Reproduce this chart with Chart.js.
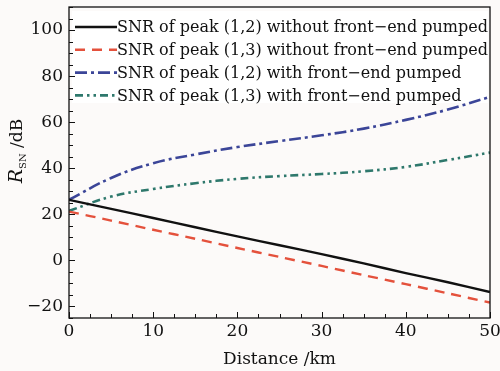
<!DOCTYPE html>
<html>
<head>
<meta charset="utf-8">
<script src="https://cdn.jsdelivr.net/npm/chart.js@4"></script>
<style>
  html, body { margin: 0; padding: 0; background: #fcfaf9; }
  #wrap { width: 500px; height: 371px; }
</style>
</head>
<body>
<div id="wrap"><canvas id="snrChart" width="500" height="371"></canvas></div>
<script>
// distance along the fiber (km)
const distance = [0, 5, 10, 15, 20, 25, 30, 35, 40, 45, 50];

// SNR (dB)
const snr12NoPump = [26.3, 22.4, 18.4, 14.4, 10.4, 6.6, 2.7, -1.3, -5.5, -9.5, -13.7];
const snr13NoPump = [21.2, 17.3, 13.3, 9.4, 5.4, 1.5, -2.4, -6.4, -10.3, -14.3, -18.3];
const snr12Pump = [26.3, 35.8, 42.2, 46.0, 49.2, 51.8, 54.3, 57.2, 61.0, 65.5, 71.0];
const snr13Pump = [21.5, 27.7, 31.0, 33.5, 35.4, 36.6, 37.5, 38.7, 40.6, 43.6, 46.8];

const seriesLabels = [
    'SNR of peak (1,2) without front\u2212end pumped',
    'SNR of peak (1,3) without front\u2212end pumped',
    'SNR of peak (1,2) with front\u2212end pumped',
    'SNR of peak (1,3) with front\u2212end pumped'
];

const xTicks = [0, 10, 20, 30, 40, 50];
const yTicks = [-20, 0, 20, 40, 60, 80, 100];

const serif = "'DejaVu Serif', serif";

function toPoints(ys) {
    return distance.map((d, i) => ({ x: d, y: ys[i] }));
}

// frame, inward ticks, legend and axis titles
const decorPlugin = {
    id: 'decor',
    beforeDraw(chart) {
        const c = chart.ctx;
        c.save();
        c.fillStyle = '#fcfaf9';
        c.fillRect(0, 0, chart.width, chart.height);
        c.restore();
    },
    beforeDatasetsDraw(chart) {
        // legend background sits under the curves
        const c = chart.ctx, a = chart.chartArea;
        c.save();
        c.fillStyle = '#ffffff';
        c.fillRect(a.left + 3, a.top + 4, a.right - a.left - 5, 92);
        c.restore();
    },
    afterDraw(chart) {
        const c = chart.ctx, a = chart.chartArea;
        const xs = chart.scales.x, ys = chart.scales.y;
        c.save();
        c.strokeStyle = '#111';
        c.lineWidth = 1.3;
        c.strokeRect(a.left, a.top, a.right - a.left, a.bottom - a.top);

        // x ticks: major every 10, minor every 2.5
        c.lineWidth = 1;
        for (let v = 0; v <= 50; v += 2.5) {
            const px = Math.round(xs.getPixelForValue(v)) + 0.5;
            const len = (v % 10 === 0) ? 6 : 4;
            c.beginPath();
            c.moveTo(px, a.bottom);
            c.lineTo(px, a.bottom - len);
            c.stroke();
        }
        // y ticks: major every 20, minor every 5
        for (let v = -25; v <= 110; v += 5) {
            const py = Math.round(ys.getPixelForValue(v)) + 0.5;
            const len = (v % 20 === 0) ? 6 : 4;
            c.beginPath();
            c.moveTo(a.left, py);
            c.lineTo(a.left + len, py);
            c.stroke();
        }

        // legend entries
        c.font = '16px ' + serif;
        c.textBaseline = 'middle';
        chart.data.datasets.forEach((ds, i) => {
            const y = a.top + 20 + i * 22.8;
            c.strokeStyle = ds.borderColor;
            c.lineWidth = ds.borderWidth;
            c.setLineDash(ds.borderDash || []);
            c.beginPath();
            c.moveTo(a.left + 6, y);
            c.lineTo(a.left + 48, y);
            c.stroke();
            c.setLineDash([]);
            c.fillStyle = '#111';
            c.fillText(ds.label, a.left + 48, y + 1);
        });

        // axis titles
        c.fillStyle = '#111';
        c.font = '17px ' + serif;
        c.textAlign = 'center';
        c.textBaseline = 'alphabetic';
        c.fillText('Distance /km', (a.left + a.right) / 2, 364);

        c.translate(22, 151);
        c.rotate(-Math.PI / 2);
        c.textAlign = 'left';
        c.font = 'italic 19px ' + serif;
        const rW = c.measureText('R').width;
        c.font = '10px ' + serif;
        const subW = c.measureText('SN').width;
        c.font = '17px ' + serif;
        const restW = c.measureText(' /dB').width;
        let x0 = -(rW + subW + restW) / 2;
        c.font = 'italic 19px ' + serif;
        c.fillText('R', x0, 0);
        x0 += rW;
        c.font = '10px ' + serif;
        c.fillText('SN', x0, 4);
        x0 += subW;
        c.font = '17px ' + serif;
        c.fillText(' /dB', x0, 0);
        c.restore();
    }
};

let ctx = document.getElementById('snrChart').getContext('2d');

let snrChart = new Chart(ctx, {
    type: 'line',
    data: {
        datasets: [
            {
                label: seriesLabels[0],
                data: toPoints(snr12NoPump),
                borderColor: '#111111',
                borderWidth: 2.4,
                pointRadius: 0,
                tension: 0.3,
                fill: false
            },
            {
                label: seriesLabels[1],
                data: toPoints(snr13NoPump),
                borderColor: '#e4513c',
                borderWidth: 2.4,
                borderDash: [10, 7],
                pointRadius: 0,
                tension: 0.3,
                fill: false
            },
            {
                label: seriesLabels[2],
                data: toPoints(snr12Pump),
                borderColor: '#3b4598',
                borderWidth: 2.6,
                borderDash: [12, 4, 3, 4],
                pointRadius: 0,
                tension: 0.4,
                fill: false
            },
            {
                label: seriesLabels[3],
                data: toPoints(snr13Pump),
                borderColor: '#2e786c',
                borderWidth: 2.6,
                borderDash: [8, 4, 2.5, 4, 2.5, 4],
                pointRadius: 0,
                tension: 0.4,
                fill: false
            }
        ]
    },
    options: {
        responsive: false,
        animation: false,
        layout: { padding: { top: 7, right: 10, left: 0, bottom: 0 } },
        plugins: {
            legend: { display: false },
            tooltip: { enabled: false }
        },
        scales: {
            x: {
                type: 'linear',
                min: 0,
                max: 50,
                grid: { display: false, drawTicks: false },
                border: { display: false },
                afterBuildTicks: s => { s.ticks = xTicks.map(v => ({ value: v })); },
                afterFit: s => {
                    s.height = 53;
                    s.paddingLeft = 0;
                    s.paddingRight = 0;
                },
                ticks: {
                    color: '#111',
                    font: { family: serif, size: 17 },
                    padding: 3,
                    maxRotation: 0
                }
            },
            y: {
                min: -25,
                max: 110,
                grid: { display: false, drawTicks: false },
                border: { display: false },
                afterBuildTicks: s => { s.ticks = yTicks.map(v => ({ value: v })); },
                afterFit: s => {
                    s.width = 69;
                    s.paddingTop = 0;
                    s.paddingBottom = 0;
                },
                ticks: {
                    color: '#111',
                    font: { family: serif, size: 17 },
                    padding: 6,
                    callback: v => String(v).replace('-', '\u2212')
                }
            }
        }
    },
    plugins: [decorPlugin]
});
</script>
</body>
</html>
